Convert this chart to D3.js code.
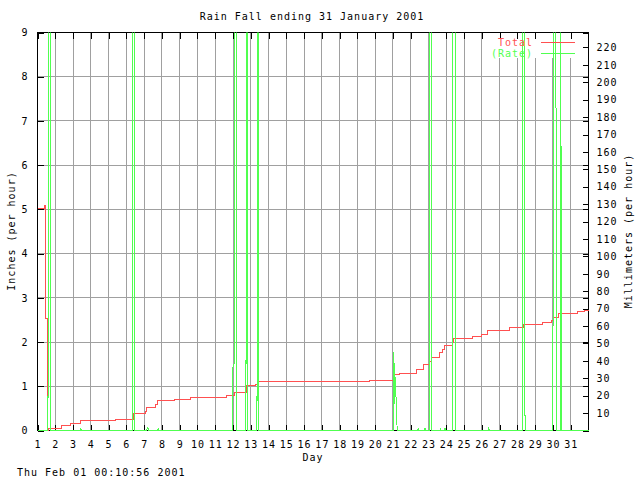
<!DOCTYPE html>
<html>
<head>
<meta charset="utf-8">
<script src="https://cdn.jsdelivr.net/npm/d3@7"></script>
<style>
  html, body { margin: 0; padding: 0; background: #ffffff; }
  svg { display: block; }
  text { font-family: "DejaVu Sans Mono", monospace; font-size: 10px; letter-spacing: 1px; fill: #000; }
</style>
</head>
<body>
<svg id="chart" width="640" height="480"></svg>
<script>
// ---------- data ----------
const titleText = "Rain Fall ending 31 January 2001";
const timestampText = "Thu Feb 01 00:10:56 2001";
const dayTicks = d3.range(1, 32);            // 1..31
const inchTicks = d3.range(0, 10);           // 0..9
const mmTicks = d3.range(10, 230, 10);       // 10..220

// Total (inches) as step series: day where step starts, value after the step
const totalDays = [1.00, 1.39, 1.47, 1.56, 1.64, 2.35, 2.87, 3.44, 5.39, 6.38, 7.06, 7.13, 7.64, 7.75, 8.69, 9.63,
  11.62, 12.08, 12.74, 13.27, 13.40, 19.70, 21.09, 21.37, 22.34, 22.73, 23.05, 23.15, 23.63, 23.80, 23.92, 24.33,
  24.42, 25.49, 25.96, 26.33, 27.57, 28.36, 29.40, 29.92, 30.05, 30.33, 31.37, 31.79, 32.00];
const totalInches = [5.03, 5.08, 2.53, 0.00, 0.05, 0.11, 0.165, 0.22, 0.26, 0.38, 0.43, 0.53, 0.59, 0.68, 0.70, 0.74,
  0.79, 0.85, 1.01, 1.05, 1.10, 1.12, 1.26, 1.29, 1.37, 1.49, 1.56, 1.64, 1.76, 1.83, 1.92, 2.00,
  2.07, 2.13, 2.18, 2.27, 2.33, 2.39, 2.44, 2.48, 2.56, 2.64, 2.68, 2.71, 2.71];

// Rate (inches per hour); values above 9 run off the top of the plot
const rateDays = [1.00, 1.59, 1.60, 1.63, 1.64, 1.74, 1.75,
  3.40, 3.44, 3.48,
  6.32, 6.33, 6.43, 6.44,
  7.14, 7.17, 7.22, 7.25,
  7.76, 7.79, 7.82,
  11.98, 11.99, 12.06, 12.08, 12.17, 12.18,
  12.73, 12.74, 12.82, 12.83,
  13.35, 13.36, 13.44, 13.45,
  21.04, 21.05, 21.09, 21.14, 21.20, 21.24,
  22.40, 22.42, 22.44,
  22.77, 22.79, 22.83, 22.85,
  23.04, 23.05, 23.16, 23.17,
  23.64, 23.67, 23.70,
  23.89, 23.92, 23.95,
  24.36, 24.37, 24.49, 24.50,
  26.37, 26.39, 26.42,
  28.29, 28.30, 28.39, 28.40, 28.47, 28.48,
  29.98, 29.99, 30.03, 30.04, 30.17, 30.18,
  30.41, 30.42, 30.45, 30.46,
  32.00];
const rateInches = [0, 0, 4.48, 4.5, 12, 12, 0,
  0, 0.05, 0,
  0, 12, 12, 0,
  0, 0.06, 0.06, 0,
  0, 0.05, 0,
  0, 1.43, 1.5, 12, 12, 0,
  0, 12, 12, 0,
  0, 12, 12, 0,
  0, 1.77, 0.6, 1.2, 0.34, 0,
  0, 0.05, 0,
  0, 0.05, 0.05, 0,
  0, 12, 12, 0,
  0, 0.05, 0,
  0, 0.06, 0,
  0, 12, 12, 0,
  0, 0.07, 0,
  0, 12, 12, 0.33, 0.33, 0,
  0, 2.35, 2.4, 12, 12, 0,
  0, 12, 12, 0,
  0];

const seriesNames = ["Total", "(Rate)"];
const seriesColors = ["#ff5050", "#50ff50"];

// ---------- layout ----------
const L = 37, R = 588, T = 32, B = 430;
const svg = d3.select("#chart");

const x = d3.scaleLinear().domain([1, 32]).range([L, R]);
const yIn = d3.scaleLinear().domain([0, 9]).range([B, T]);
const yMm = d3.scaleLinear().domain([0, 9 * 25.4]).range([B, T]);

svg.append("defs").append("clipPath").attr("id", "plotclip")
  .append("rect").attr("x", L).attr("y", T).attr("width", R - L + 1).attr("height", B - T + 1);

// grid
const grid = svg.append("g").attr("shape-rendering", "crispEdges").attr("stroke", "#a0a0a0");
grid.selectAll("line.v").data(dayTicks.filter(d => d > 1)).join("line")
  .attr("x1", d => Math.round(x(d)) + 0.5).attr("x2", d => Math.round(x(d)) + 0.5)
  .attr("y1", T).attr("y2", B);
grid.selectAll("line.h").data(inchTicks.filter(d => d > 0 && d < 9)).join("line")
  .attr("x1", L).attr("x2", R)
  .attr("y1", d => Math.round(yIn(d)) + 0.5).attr("y2", d => Math.round(yIn(d)) + 0.5);

// legend background (clears grid)
svg.append("rect").attr("x", 489).attr("y", T + 1).attr("width", R - 489 - 1).attr("height", 25).attr("fill", "#fff");

// axes (inward ticks)
function styleAxis(g) {
  g.select(".domain").remove();
  g.selectAll(".tick line").attr("stroke", "#000").attr("shape-rendering", "crispEdges");
  g.selectAll(".tick text").attr("fill", "#000").style("font-family", "DejaVu Sans Mono, monospace").style("font-size", "10px");
}
svg.append("g").attr("transform", `translate(0.5,${B + 0.5})`)
  .call(d3.axisBottom(x).tickValues(dayTicks).tickSizeInner(-6).tickSizeOuter(0).tickPadding(10).tickFormat(d3.format("d")))
  .call(styleAxis);
svg.append("g").attr("transform", `translate(0.5,${T + 0.5})`)
  .call(d3.axisTop(x).tickValues(dayTicks).tickSizeInner(-6).tickSizeOuter(0).tickFormat(""))
  .call(styleAxis);
svg.append("g").attr("transform", `translate(${L + 0.5},0.5)`)
  .call(d3.axisLeft(yIn).tickValues(inchTicks).tickSizeInner(-6).tickSizeOuter(0).tickPadding(9).tickFormat(d3.format("d")))
  .call(styleAxis);
svg.append("g").attr("transform", `translate(${R + 0.5},0.5)`)
  .call(d3.axisRight(yIn).tickValues(inchTicks).tickSizeInner(-6).tickSizeOuter(0).tickFormat(""))
  .call(styleAxis);
svg.append("g").attr("transform", `translate(${R + 0.5},0.5)`)
  .call(d3.axisRight(yMm).tickValues(mmTicks).tickSizeInner(-6).tickSizeOuter(0).tickPadding(8).tickFormat(d3.format("d")))
  .call(styleAxis);

// border
svg.append("rect").attr("x", L + 0.5).attr("y", T + 0.5).attr("width", R - L).attr("height", B - T)
  .attr("fill", "none").attr("stroke", "#000").attr("shape-rendering", "crispEdges");

// series
const totalData = totalDays.map((d, i) => [d, totalInches[i]]);
const rateData = rateDays.map((d, i) => [d, rateInches[i]]);

const plot = svg.append("g").attr("clip-path", "url(#plotclip)").attr("transform", "translate(0.5,0.5)");
plot.append("path").datum(totalData)
  .attr("d", d3.line().x(d => x(d[0])).y(d => yIn(d[1])).curve(d3.curveStepAfter))
  .attr("fill", "none").attr("stroke", seriesColors[0]).attr("stroke-width", 1).attr("shape-rendering", "crispEdges");
plot.append("path").datum(rateData)
  .attr("d", d3.line().x(d => x(d[0])).y(d => yIn(Math.min(d[1], 9.3))))
  .attr("fill", "none").attr("stroke", seriesColors[1]).attr("stroke-width", 1).attr("shape-rendering", "crispEdges");

// legend
const legendY = [42, 53];
seriesNames.forEach((name, i) => {
  svg.append("text").attr("x", 533).attr("y", legendY[i] + 3.5).attr("text-anchor", "end")
    .style("fill", seriesColors[i]).text(name);
  svg.append("line").attr("x1", 541).attr("x2", 575).attr("y1", legendY[i] + 0.5).attr("y2", legendY[i] + 0.5)
    .attr("stroke", seriesColors[i]).attr("shape-rendering", "crispEdges");
});

// titles
svg.append("text").attr("x", 312).attr("y", 20).attr("text-anchor", "middle").text(titleText);
svg.append("text").attr("x", 313).attr("y", 461).attr("text-anchor", "middle").text("Day");
svg.append("text").attr("x", 17).attr("y", 476).text(timestampText);
svg.append("text").attr("transform", "translate(15,231) rotate(-90)").attr("text-anchor", "middle").text("Inches (per hour)");
svg.append("text").attr("transform", "translate(632,231) rotate(-90)").attr("text-anchor", "middle").text("Millimeters (per hour)");
</script>
</body>
</html>
